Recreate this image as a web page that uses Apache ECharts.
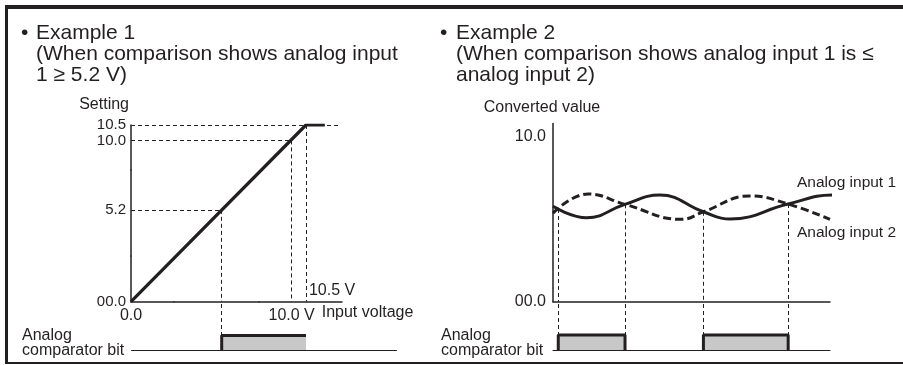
<!DOCTYPE html>
<html>
<head>
<meta charset="utf-8">
<script src="https://cdn.jsdelivr.net/npm/echarts@6/dist/echarts.min.js"></script>
<style>
html, body { margin: 0; padding: 0; background: #fff; }
#chart { width: 903px; height: 365px; }
</style>
</head>
<body>
<div id="chart"></div>
<script>
// Example 1: setting follows input voltage, clamps at 10.5
const settingX = [0, 10.5, 11.16]
const settingY = [0, 10.5, 10.5]
const settingTicks = [0, 5.2, 10.0, 10.5]
const voltageTicks = [0, 10.0]
const guideLevels = [5.2, 10.0, 10.5]
const guideReach = [5.2, 10.0, 11.65]
const bit1Rise = [5.2]
const bit1Fall = [10.5]

// Example 2: two analog inputs over time
const in1Time = [0, 12.2, 26, 38.6, 54.3, 63.9, 84.9, 101.1, 103.6]
const in1Value = [5.78, 5.09, 5.90, 6.47, 5.45, 5.01, 5.92, 6.47, 6.35]
const in2Time = [0, 12.7, 26, 46.5, 54.3, 71.1, 84.9, 100]
const in2Value = [5.36, 6.53, 5.90, 4.99, 5.45, 6.41, 5.92, 4.99]
const crossTime = [1.9, 26, 54.3, 84.9]
const crossValue = [5.62, 5.90, 5.45, 5.92]
const bit2Rise = [1.9, 54.3]
const bit2Fall = [26, 84.9]

const ink = '#231f20'
const gray = '#c8c8c8'
const font = 'Liberation Sans, Arial, sans-serif'
const pair = (xs, ys) => xs.map((x, i) => [x, ys[i]])
const dash = { color: ink, width: 1, type: [4, 3] }

// the sketch is not to scale: squeeze the axes so ticks land where it drew them
const xBreaks = [{ start: 1.5, end: 3.529, gap: 0 }, { start: 6.5, end: 8.852, gap: 0 }]
const yBreaks = [{ start: 1.5, end: 3.723, gap: 0 }, { start: 6.5, end: 9.05, gap: 0 }]
const noBreakArea = { show: false, itemStyle: { opacity: 0 } }

const chart = echarts.init(document.getElementById('chart'))

const axisLine = { show: true, onZero: false, lineStyle: { color: ink, width: 1.5 } }
const labelStyle = { color: ink, fontSize: 16, fontFamily: font }
const tickStyle = { color: ink, fontSize: 16, fontFamily: font, hideOverlap: false, showMinLabel: true, showMaxLabel: true }

function pulseSeries(rise, fall, xi) {
    const list = []
    rise.forEach((r, i) => {
        list.push({
            type: 'line', xAxisIndex: xi, yAxisIndex: xi, symbol: 'none', silent: true, z: 2,
            data: [[r, 0], [r, 1], [fall[i], 1], [fall[i], 0]],
            lineStyle: { width: 0 },
            areaStyle: { color: gray, opacity: 1 }
        })
        list.push({
            type: 'line', xAxisIndex: xi, yAxisIndex: xi, symbol: 'none', silent: true, z: 4,
            // left example has no falling edge drawn
            data: xi === 1 ? [[r, 0], [r, 1], [fall[i], 1]] : [[r, 0], [r, 1], [fall[i], 1], [fall[i], 0]],
            lineStyle: { color: ink, width: 3 }
        })
    })
    return list
}

const titleText = { color: ink, fontSize: 21, fontWeight: 'normal', fontFamily: font, lineHeight: 21 }
const smallText = { color: ink, fontSize: 16, fontWeight: 'normal', fontFamily: font, lineHeight: 15 }

chart.setOption({
    animation: false,
    title: [
        { text: '•', left: 21, top: 23, padding: 0, textStyle: titleText },
        { text: 'Example 1\n(When comparison shows analog input\n1 ≥ 5.2 V)', left: 36, top: 23, padding: 0, textStyle: titleText },
        { text: '•', left: 440, top: 23, padding: 0, textStyle: titleText },
        { text: 'Example 2\n(When comparison shows analog input 1 is ≤\nanalog input 2)', left: 456, top: 23, padding: 0, textStyle: titleText },
        { text: 'Analog\ncomparator bit', left: 22, top: 328, padding: 0, textStyle: smallText },
        { text: 'Analog\ncomparator bit', left: 441, top: 328, padding: 0, textStyle: smallText }
    ],
    graphic: [
        { type: 'rect', shape: { x: 5, y: 5, width: 898, height: 4 }, style: { fill: ink } },
        { type: 'rect', shape: { x: 5, y: 5, width: 3, height: 359 }, style: { fill: ink } },
        { type: 'rect', shape: { x: 5, y: 362, width: 898, height: 2 }, style: { fill: ink } }
    ],
    grid: [
        { left: 131, top: 125, width: 210.7, height: 176.7 },
        { left: 131, top: 301.7, width: 265.7, height: 48.3 },
        { left: 553, top: 123.5, width: 277, height: 178.2 },
        { left: 553, top: 301.7, width: 277, height: 48.3 }
    ],
    xAxis: [
        {
            gridIndex: 0, type: 'value', min: 0, max: 11.75, breaks: xBreaks, breakArea: noBreakArea,
            axisLine: axisLine, axisTick: { show: false }, splitLine: { show: false },
            axisLabel: Object.assign({ customValues: voltageTicks, margin: 6, formatter: v => v === 0 ? '0.0' : v.toFixed(1) + ' V' }, tickStyle),
            name: 'Input voltage', nameLocation: 'end', nameGap: -20,
            nameTextStyle: Object.assign({ align: 'left', verticalAlign: 'top', lineHeight: 22 }, labelStyle)
        },
        {
            gridIndex: 1, type: 'value', min: 0, max: 13.67, breaks: xBreaks, breakArea: noBreakArea,
            axisLine: Object.assign({}, axisLine, { lineStyle: { color: ink, width: 1 } }),
            axisTick: { show: false }, splitLine: { show: false }, axisLabel: { show: false }
        },
        {
            gridIndex: 2, type: 'value', min: 0, max: 100,
            axisLine: axisLine, axisTick: { show: false }, splitLine: { show: false }, axisLabel: { show: false }
        },
        {
            gridIndex: 3, type: 'value', min: 0, max: 100,
            axisLine: Object.assign({}, axisLine, { lineStyle: { color: ink, width: 1 } }),
            axisTick: { show: false }, splitLine: { show: false }, axisLabel: { show: false }
        }
    ],
    yAxis: [
        {
            gridIndex: 0, type: 'value', min: 0, max: 10.5, breaks: yBreaks, breakArea: noBreakArea,
            axisLine: axisLine, axisTick: { show: false }, splitLine: { show: false },
            // 10.0 and 10.5 sit close together; at 16px one of them gets dropped
            axisLabel: Object.assign({ customValues: settingTicks, margin: 5, formatter: v => v === 0 ? '00.0' : v.toFixed(1) }, tickStyle, { fontSize: 15 }),
            name: 'Setting', nameLocation: 'end', nameGap: 12,
            nameTextStyle: Object.assign({ align: 'right', padding: [0, 2, 0, 0] }, labelStyle)
        },
        { gridIndex: 1, type: 'value', min: 0, max: 3.33, show: false },
        {
            gridIndex: 2, type: 'value', min: 0, max: 10.8,
            axisLine: axisLine, axisTick: { show: false }, splitLine: { show: false },
            axisLabel: Object.assign({ customValues: [0, 10], margin: 7, formatter: v => v === 0 ? '00.0' : v.toFixed(1) }, tickStyle),
            name: 'Converted value', nameLocation: 'end', nameGap: 8,
            nameTextStyle: Object.assign({ align: 'center', padding: [0, 22, 0, 0] }, labelStyle)
        },
        { gridIndex: 3, type: 'value', min: 0, max: 3.22, show: false }
    ],
    series: [
        {
            type: 'line', xAxisIndex: 0, yAxisIndex: 0, symbol: 'none', silent: true, z: 3,
            data: pair(settingX, settingY),
            lineStyle: { color: ink, width: 3.2 },
            markLine: {
                silent: true, symbol: ['none', 'none'], label: { show: false }, lineStyle: dash,
                data: guideLevels.map((v, i) => [{ coord: [0, v] }, { coord: [guideReach[i], v] }])
                    .concat(guideLevels.map(v => [{ coord: [v, v] }, { coord: [v, 0] }]))
            }
        },
        {
            type: 'scatter', xAxisIndex: 0, yAxisIndex: 0, symbolSize: 0, silent: true,
            itemStyle: { opacity: 1 },
            data: [[settingY[1], 0]],
            label: Object.assign({ show: true, position: 'right', distance: 3, offset: [0, -11], formatter: '10.5 V' }, labelStyle)
        },
        {
            type: 'line', xAxisIndex: 1, yAxisIndex: 1, symbol: 'none', silent: true, data: [],
            markLine: { silent: true, symbol: ['none', 'none'], label: { show: false }, lineStyle: dash, data: bit1Rise.map(v => ({ xAxis: v })) }
        },
        ...pulseSeries(bit1Rise, bit1Fall, 1),
        {
            name: 'Analog input 1', type: 'line', xAxisIndex: 2, yAxisIndex: 2, symbol: 'none', silent: true,
            smooth: 0.45, clip: false, z: 3,
            data: pair(in1Time, in1Value),
            lineStyle: { color: ink, width: 3 },
            endLabel: Object.assign({ show: true, formatter: '{a}', distance: 0, offset: [-35, -12] }, labelStyle, { fontSize: 15.5 })
        },
        {
            name: 'Analog input 2', type: 'line', xAxisIndex: 2, yAxisIndex: 2, symbol: 'none', silent: true,
            smooth: 0.45, clip: false, z: 3,
            data: pair(in2Time, in2Value),
            lineStyle: { color: ink, width: 3, type: [8, 4] },
            endLabel: Object.assign({ show: true, formatter: '{a}', distance: 0, offset: [-33, 13] }, labelStyle, { fontSize: 15.5 }),
            markLine: {
                silent: true, symbol: ['none', 'none'], label: { show: false }, lineStyle: dash,
                data: crossTime.map((t, i) => [{ coord: [t, crossValue[i]] }, { coord: [t, 0] }])
            }
        },
        {
            type: 'line', xAxisIndex: 3, yAxisIndex: 3, symbol: 'none', silent: true, data: [],
            markLine: { silent: true, symbol: ['none', 'none'], label: { show: false }, lineStyle: dash, data: crossTime.map(t => ({ xAxis: t })) }
        },
        ...pulseSeries(bit2Rise, bit2Fall, 3)
    ]
})
</script>
</body>
</html>
